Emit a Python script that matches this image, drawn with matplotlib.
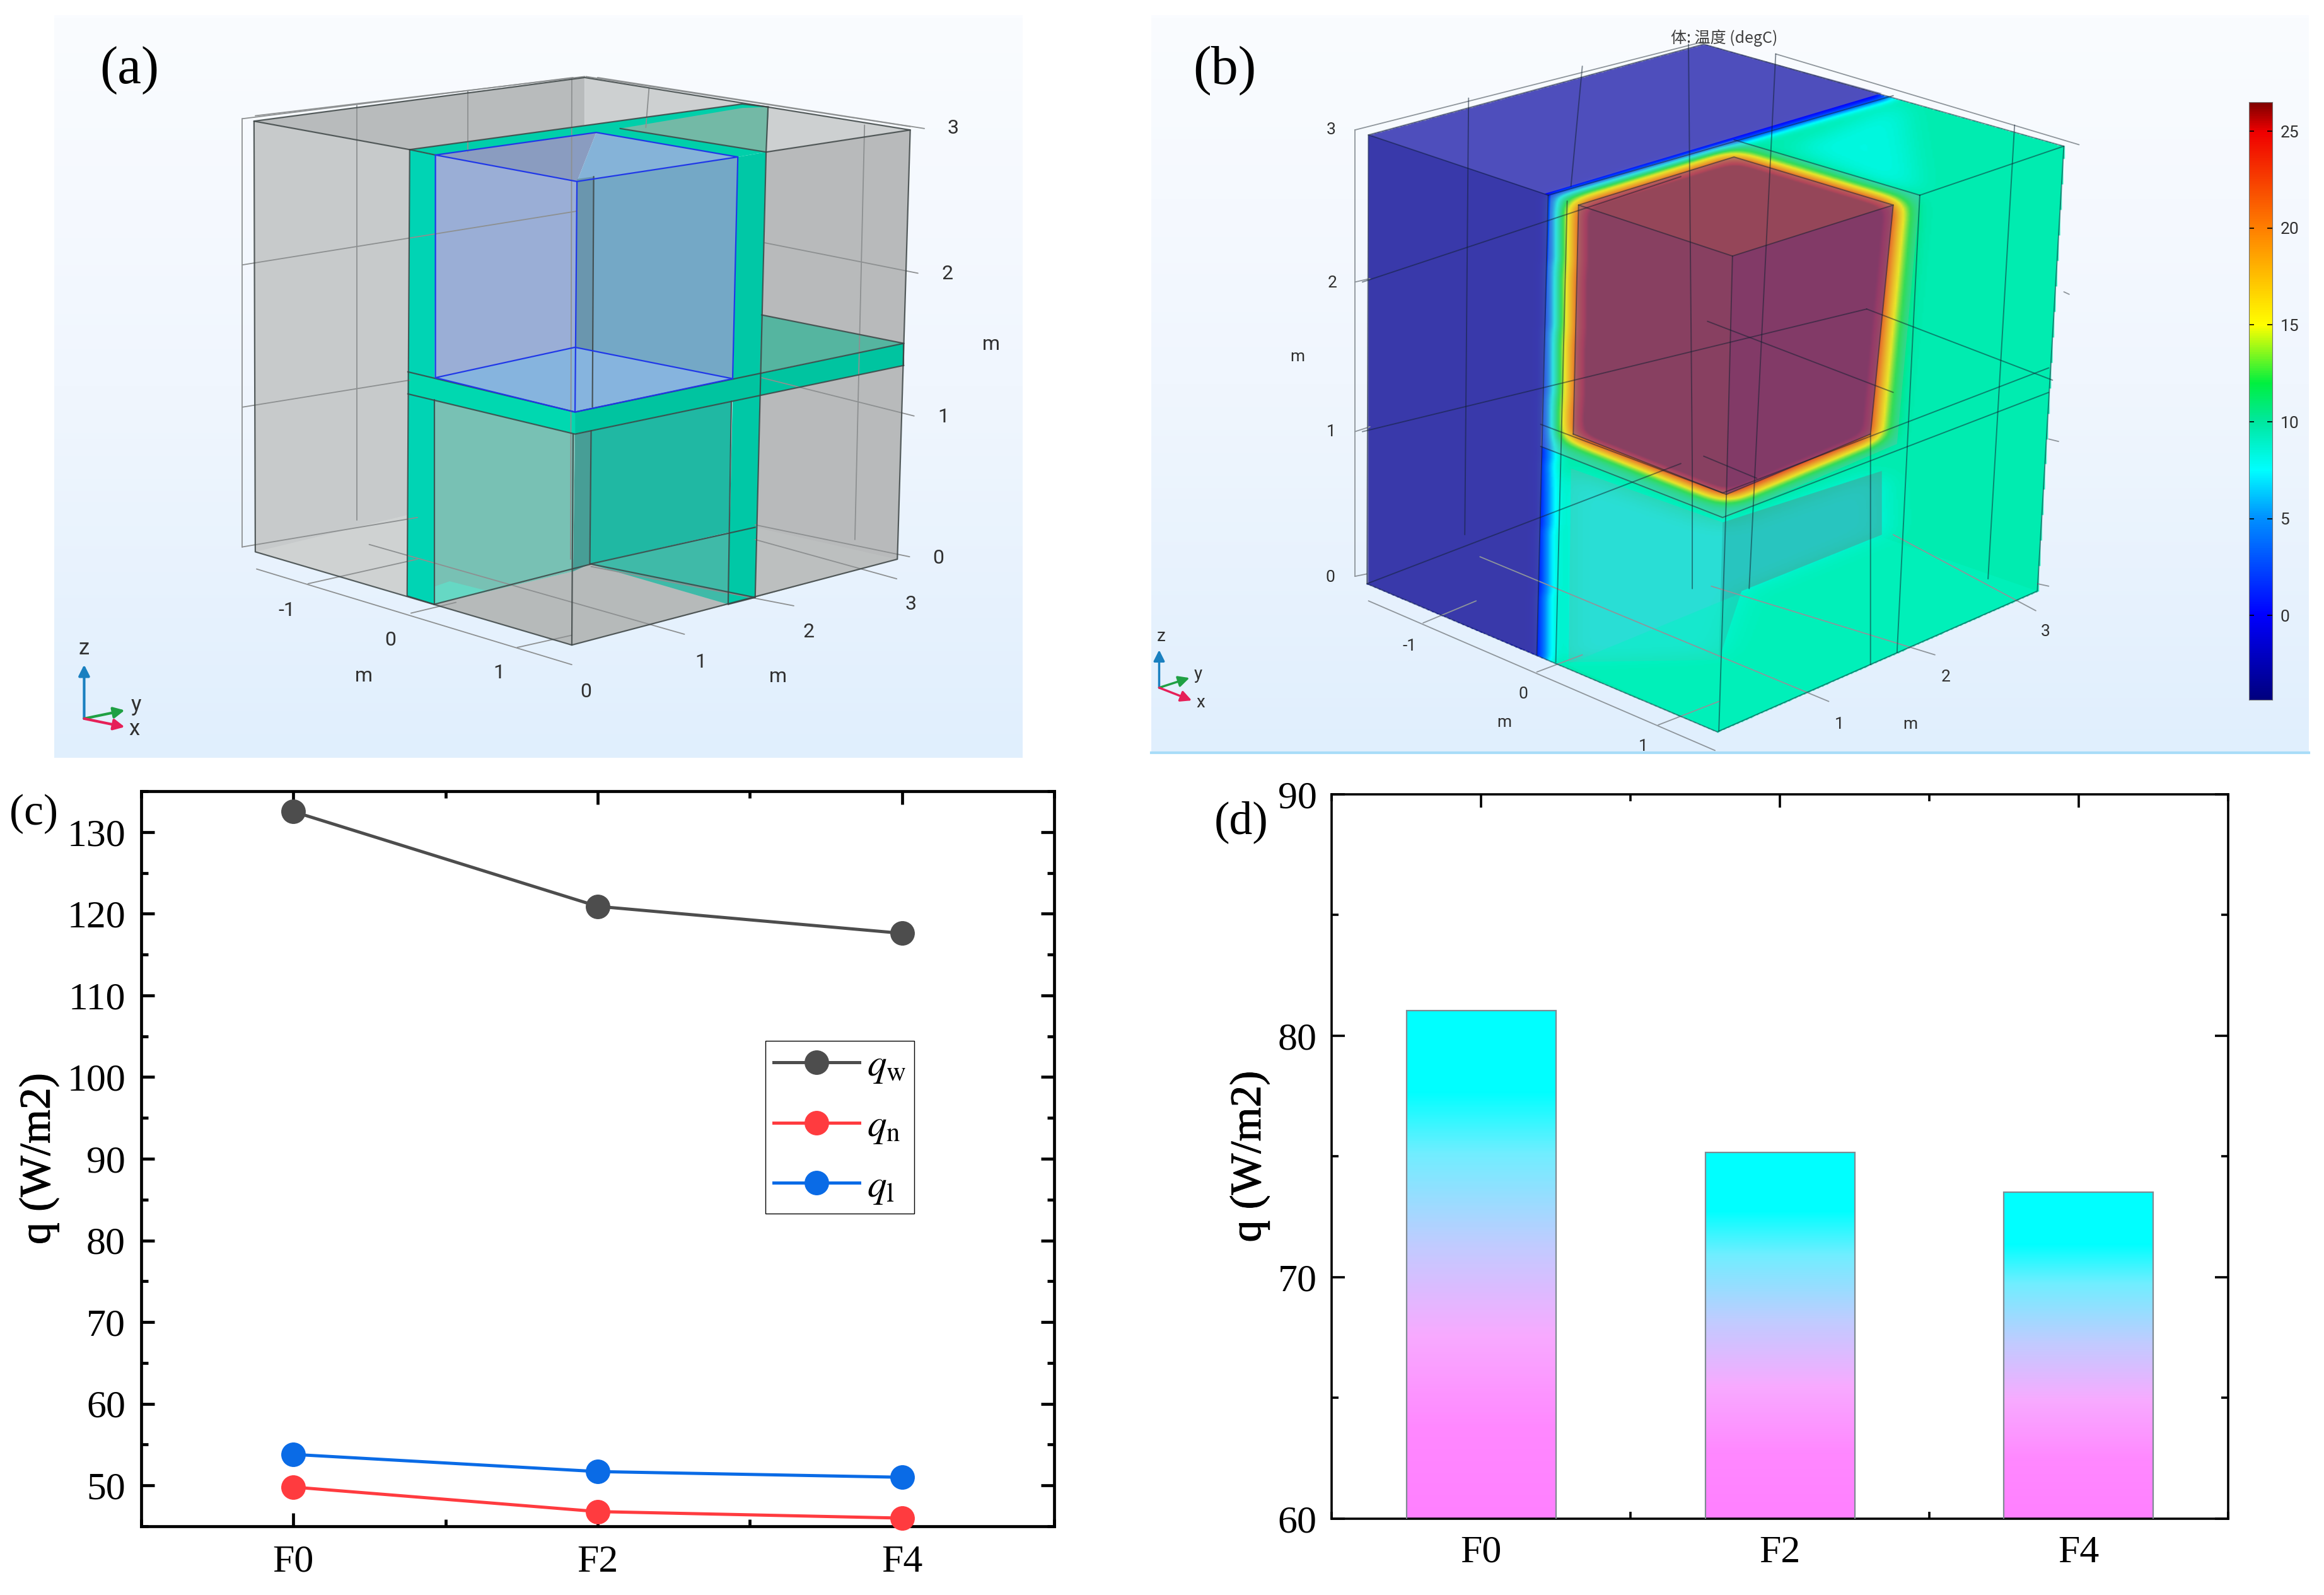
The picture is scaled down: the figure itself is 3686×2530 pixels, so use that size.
import matplotlib
matplotlib.use("Agg")
import matplotlib.pyplot as plt
import matplotlib.patheffects as pe
import numpy as np
from matplotlib.colors import LinearSegmentedColormap
from matplotlib.patches import Polygon
from matplotlib.path import Path
from matplotlib.ticker import MultipleLocator

plt.rcParams["font.family"] = ["Liberation Serif", "DejaVu Serif"]
plt.rcParams["mathtext.fontset"] = "stix"

# ── data ──────────────────────────────────────────────────────────────────────

CASES = ["F0", "F2", "F4"]
Q_W = [132.5, 120.9, 117.6]
Q_N = [49.8, 46.8, 46.0]
Q_L = [53.8, 51.7, 51.0]
Q_BAR = [81.05, 75.17, 73.53]

W, H = 3686, 2530
SANS = ["Roboto", "DejaVu Sans"]

fig = plt.figure(figsize=(W / 100, H / 100), dpi=100, facecolor="white")


def add_box(x0, y0, x1, y1):
    return fig.add_axes([x0 / W, 1 - y1 / H, (x1 - x0) / W, (y1 - y0) / H])


def sketch_axes(x0, y0, x1, y1):
    # drawing coords run 0-1568 across the box, y pointing down
    ax = add_box(x0, y0, x1, y1)
    ax.set_xlim(0, 1568)
    ax.set_ylim(1568, 0)
    ax.set_axis_off()
    return ax


def background(ax, x0, y0, x1, y1):
    cm = LinearSegmentedColormap.from_list("bg", ["#fafcff", "#f0f6fe", "#e0effd"])
    ax.imshow(np.linspace(0, 1, 256)[:, None], extent=(x0, x1, y1, y0), cmap=cm,
              aspect="auto", zorder=0)
    ax.set_xlim(0, 1568)
    ax.set_ylim(1568, 0)


def poly(ax, pts, color, alpha=1.0, z=2):
    ax.add_patch(Polygon(pts, closed=True, facecolor=color, edgecolor="none",
                         alpha=alpha, zorder=z))


def lines(ax, segs, color, lw=1.5, alpha=1.0, z=5):
    for s in segs:
        xs, ys = zip(*s)
        ax.plot(xs, ys, color=color, lw=lw, alpha=alpha, zorder=z,
                solid_capstyle="round")


def labels(ax, items, size, color="#303030"):
    for x, y, s in items:
        ax.text(x, y, s, fontsize=size, color=color, family=SANS,
                ha="center", va="center", zorder=8)


def triad(ax, o, z_end, y_end, x_end, lw=3):
    for end, c in [(z_end, "#1a80c0"), (y_end, "#1fa043"), (x_end, "#e62058")]:
        ax.annotate("", xy=end, xytext=o, zorder=7,
                    arrowprops=dict(arrowstyle="-|>", color=c, lw=lw,
                                    mutation_scale=26, shrinkA=0, shrinkB=0))


# ── (a) model geometry ────────────────────────────────────────────────────────

ax = sketch_axes(60, 0, 1660, 1220)
background(ax, 25, 32, 1530, 1545)

poly(ax, [(336, 247), (850, 158), (850, 265), (578, 305)], "#b8bbbc")
poly(ax, [(850, 158), (1356, 265), (1132, 310), (850, 265)], "#cdd0d1")
poly(ax, [(336, 247), (578, 305), (574, 1215), (338, 1125)], "#c7cacb")
poly(ax, [(1132, 310), (1356, 265), (1336, 1140), (1115, 1218)], "#b8babb")
poly(ax, [(338, 1125), (574, 1050), (860, 1150), (830, 1315), (574, 1215)], "#cfd2d2")
poly(ax, [(860, 1150), (1115, 1075), (1336, 1140), (1115, 1218), (830, 1315)], "#bcbfbf")
poly(ax, [(616, 1232), (832, 1165), (858, 1150), (1073, 1232), (830, 1315)], "#b6baba")

# lower room
poly(ax, [(616, 815), (835, 885), (832, 1165), (616, 1232)], "#78c1b4")
poly(ax, [(835, 885), (860, 878), (858, 1150), (832, 1165)], "#479e96")
poly(ax, [(860, 878), (1078, 818), (1075, 1085), (858, 1150)], "#20b8a3")
poly(ax, [(858, 1150), (1075, 1085), (1115, 1075), (1115, 1218), (1073, 1232)], "#3fbaa8")
poly(ax, [(574, 1215), (616, 1232), (700, 1205), (640, 1185)], "#66d8c4")

# teal walls
poly(ax, [(578, 305), (618, 316), (616, 1232), (574, 1215)], "#00d4b4", z=3)
poly(ax, [(1088, 320), (1132, 310), (1115, 1218), (1073, 1232)], "#00c8a6", z=3)
poly(ax, [(578, 305), (1095, 212), (1136, 218), (1132, 310), (1088, 320),
          (868, 270), (618, 316)], "#00cfaa", z=3)
poly(ax, [(905, 262), (1095, 220), (1136, 218), (1132, 310)], "#73b9a6", z=3)

# slab
poly(ax, [(1125, 642), (1346, 700), (1122, 760)], "#55b5a0", z=3)
poly(ax, [(575, 758), (618, 770), (835, 840), (835, 885), (575, 803)], "#00d8b0", z=3)
poly(ax, [(835, 840), (1346, 700), (1346, 745), (835, 885)], "#00c4a0", z=3)

# heated room
poly(ax, [(618, 316), (868, 270), (838, 370)], "#8a9cc0", z=4)
poly(ax, [(868, 270), (1088, 320), (838, 370)], "#85b3d8", z=4)
poly(ax, [(618, 316), (838, 370), (835, 840), (618, 770)], "#9aaed6", z=4)
poly(ax, [(838, 370), (1088, 320), (1080, 772), (835, 840)], "#74a8c6", z=4)
poly(ax, [(838, 365), (864, 360), (862, 830), (835, 840)], "#6a96ae", z=4)
poly(ax, [(618, 770), (835, 708), (1080, 772), (835, 840)], "#86b4de", z=4)

lines(ax, [[(318, 242), (832, 158)], [(870, 158), (1378, 262)], [(338, 236), (850, 156)],
           [(852, 156), (1356, 258)], [(318, 242), (318, 1115)], [(318, 540), (840, 430)],
           [(318, 830), (578, 775)], [(318, 1115), (590, 1055)], [(1130, 495), (1368, 557)],
           [(1125, 770), (1362, 848)], [(1115, 1070), (1355, 1135)],
           [(340, 1160), (830, 1355)], [(420, 1190), (590, 1140)], [(580, 1250), (650, 1228)],
           [(745, 1320), (830, 1295)], [(515, 1110), (1005, 1293)], [(860, 1155), (1175, 1235)],
           [(1115, 1100), (1335, 1180)], [(496, 215), (496, 1060)], [(668, 185), (668, 310)],
           [(830, 160), (828, 1140)], [(950, 180), (945, 260)], [(1285, 255), (1270, 1100)]],
      "#8d9091", lw=1.3, z=4.5)
lines(ax, [[(336, 247), (850, 158), (1356, 265), (1336, 1140), (830, 1315), (338, 1125), (336, 247)],
           [(336, 247), (578, 305)], [(1132, 310), (1356, 265)], [(578, 305), (1095, 212), (1136, 218)],
           [(578, 305), (574, 1215), (616, 1232)], [(1132, 310), (1115, 1218), (1073, 1232)],
           [(616, 815), (616, 1232)], [(1078, 818), (1073, 1232)], [(832, 885), (830, 1315)],
           [(575, 758), (835, 840), (1346, 700)], [(575, 803), (835, 885), (1346, 745)],
           [(1346, 700), (1346, 745)], [(1125, 642), (1346, 700)], [(616, 1232), (860, 1150), (1115, 1218)],
           [(858, 1150), (1115, 1075)], [(860, 878), (858, 1150)], [(1135, 218), (1132, 310)],
           [(578, 305), (618, 316)], [(905, 262), (1132, 310)], [(864, 360), (862, 830)]],
      "#3d4545", lw=1.6, alpha=0.85)
lines(ax, [[(618, 316), (868, 270), (1088, 320), (838, 370), (618, 316)],
           [(618, 316), (618, 770), (835, 840), (1080, 772), (1088, 320)], [(838, 370), (835, 840)],
           [(618, 770), (835, 708), (1080, 772)]], "#2038e8", lw=1.6, z=6)

labels(ax, [(1422, 262, "3"), (1414, 558, "2"), (1482, 703, "m"), (1408, 850, "1"),
            (1400, 1138, "0"), (1357, 1232, "3"), (1198, 1288, "2"), (1030, 1350, "1"),
            (1150, 1380, "m"), (852, 1410, "0"), (717, 1372, "1"), (507, 1378, "m"),
            (548, 1305, "0"), (387, 1245, "-1")], 23)
triad(ax, (72, 1465), (72, 1355), (135, 1448), (135, 1482))
labels(ax, [(72, 1322, "z"), (153, 1438, "y"), (150, 1487, "x")], 25)
ax.text(142, 143, "(a)", fontsize=61, ha="center", va="center", zorder=9)

# ── (b) temperature field ─────────────────────────────────────────────────────

ax = sketch_axes(1800, 0, 3686, 1220)
background(ax, 22, 32, 1548, 1535)
ax.plot([22, 1548], [1535, 1535], color="#a8dcf8", lw=3, zorder=1)

TICKS_B = [0, 5, 10, 15, 20, 25]
T_STOPS = [-4.35, 0, 5, 7.5, 10, 12, 15, 20, 25, 26.5]
T_COLORS = ["#00007f", "#0000ff", "#0090ff", "#00ffff", "#00e8a0", "#00f040",
            "#ffff00", "#ff8000", "#f00000", "#800000"]
t_norm = [(t - T_STOPS[0]) / (T_STOPS[-1] - T_STOPS[0]) for t in T_STOPS]
temp_cmap = LinearSegmentedColormap.from_list("temp", list(zip(t_norm, T_COLORS)))

gx, gy = np.meshgrid(np.arange(0, 1568, 2.0), np.arange(0, 1568, 2.0))
grid_pts = np.column_stack([gx.ravel(), gy.ravel()])


def mask(pts):
    return Path(pts).contains_points(grid_pts).reshape(gx.shape).astype(float)


def blur(a, sx, sy):
    # gaussian blur, sigmas given in drawing units
    for axis, s in [(1, sx / 2), (0, sy / 2)]:
        r = int(3 * s)
        k = np.exp(-0.5 * (np.arange(-r, r + 1) / s) ** 2)
        k /= k.sum()
        a = np.apply_along_axis(lambda v: np.convolve(np.pad(v, r, mode="edge"), k, mode="valid"), axis, a)
    return a


OUTLINE_B = [(308, 275), (750, 90), (1225, 298), (1190, 1205), (768, 1492), (306, 1190)]
COLD_B = [(0, 0), (745, 0), (1000, 195), (552, 398), (538, 1345), (400, 1568), (0, 1568)]
HOT_B = [(580, 414), (790, 315), (1005, 414), (975, 890), (780, 1016), (573, 890)]
LOWER_B = [(565, 960), (775, 1075), (985, 960), (990, 1085), (800, 1205), (770, 1330), (565, 1345)]
CORNER_B = [(870, 300), (1010, 205), (1030, 390), (960, 360)]

field = 9.6 - 10.1 * blur(mask(COLD_B), 11, 7)
field = field - 1.5 * blur(mask(LOWER_B), 22, 15)
field = field - 1.3 * blur(mask(CORNER_B), 20, 14)
hot = np.clip(1.15 * blur(mask(HOT_B), 17, 14), 0, 1)
field = field + (26.2 - field) * hot
rgba = temp_cmap((field - T_STOPS[0]) / (T_STOPS[-1] - T_STOPS[0]))
rgba[..., 3] = mask(OUTLINE_B)
ax.imshow(rgba, extent=(0, 1568, 1568, 0), aspect="auto", zorder=2, interpolation="bilinear")
ax.set_xlim(0, 1568)
ax.set_ylim(1568, 0)

poly(ax, [(308, 275), (545, 398), (530, 1335), (306, 1190)], "#505090", 0.72, z=3)
poly(ax, [(308, 275), (750, 90), (985, 190), (540, 395)], "#7070a8", 0.7, z=3)
poly(ax, [(548, 398), (790, 285), (1035, 398), (1005, 905), (775, 1058), (535, 910)], "#b0a898", 0.28, z=3)
poly(ax, [(585, 418), (790, 320), (1000, 418), (788, 522)], "#925a80", 0.55, z=3)
poly(ax, [(585, 418), (788, 522), (780, 1008), (578, 885)], "#7a5090", 0.55, z=3)
poly(ax, [(788, 522), (1000, 418), (970, 885), (780, 1008)], "#7a4080", 0.72, z=3)
poly(ax, [(575, 955), (775, 1065), (770, 1345), (572, 1350)], "#80a8b0", 0.32, z=3)
poly(ax, [(775, 1065), (985, 960), (985, 1090), (800, 1205), (770, 1345)], "#607f88", 0.42, z=3)
poly(ax, [(570, 1355), (768, 1492), (1190, 1205), (985, 1095), (790, 1215)], "#00f5c5", 0.45, z=3)

lines(ax, [[(290, 265), (750, 85)], [(845, 110), (1245, 295)], [(290, 265), (290, 1175)],
           [(290, 1175), (306, 1170)], [(290, 575), (310, 568)], [(290, 880), (310, 870)],
           [(308, 1225), (765, 1530)], [(380, 1270), (450, 1225)], [(530, 1370), (590, 1335)],
           [(690, 1478), (770, 1430)], [(455, 1135), (915, 1430)], [(760, 1195), (1055, 1335)],
           [(1000, 1090), (1188, 1245)], [(1190, 1190), (1205, 1195)], [(1225, 595), (1232, 600)],
           [(1205, 895), (1218, 900)]], "#8e959b", lw=1.3, z=4)
lines(ax, [OUTLINE_B + [OUTLINE_B[0]], [(308, 275), (545, 398)], [(545, 398), (1000, 195)],
           [(545, 398), (530, 1335)], [(1035, 398), (1225, 298)], [(1035, 398), (1005, 1330)],
           [(790, 285), (1035, 398)], [(585, 418), (790, 320), (1000, 418), (788, 522), (585, 418)],
           [(788, 522), (780, 1008), (770, 1490)], [(578, 885), (780, 1008), (970, 885)],
           [(1000, 418), (970, 885), (970, 1355)], [(585, 418), (578, 885)],
           [(535, 865), (775, 1005), (1205, 750)], [(535, 910), (775, 1055), (1205, 800)],
           [(306, 1190), (720, 945)], [(300, 880), (965, 630)], [(300, 575), (720, 360)],
           [(570, 410), (555, 1350)], [(440, 200), (435, 1090)], [(590, 135), (575, 380)],
           [(1160, 255), (1125, 1180)], [(730, 90), (735, 950), (735, 1200)], [(845, 110), (810, 1200)],
           [(965, 630), (1210, 775)], [(755, 655), (1000, 800)], [(750, 930), (820, 975)]],
      "#102030", lw=1.4, alpha=0.5)

labels(ax, [(259, 265, "3"), (260, 577, "2"), (214, 728, "m"), (259, 880, "1"), (258, 1177, "0"),
            (362, 1318, "-1"), (512, 1415, "0"), (487, 1473, "m"), (670, 1522, "1"),
            (929, 1477, "1"), (1022, 1477, "m"), (1069, 1380, "2"), (1201, 1288, "3")], 19)
ax.text(777, 78, "体: 温度 (degC)", fontsize=18, color="#404040", ha="center", va="center",
        family=["Noto Sans CJK SC", "DejaVu Sans"], zorder=8)
triad(ax, (32, 1402), (32, 1325), (72, 1382), (75, 1428), lw=2.5)
labels(ax, [(35, 1297, "z"), (83, 1374, "y"), (87, 1432, "x")], 20)
ax.text(118, 143, "(b)", fontsize=62, ha="center", va="center", zorder=9)

# colour bar
cax = add_box(3567, 162, 3604, 1110)
cax.imshow(np.linspace(1, 0, 512)[:, None], extent=(0, 1, T_STOPS[0], T_STOPS[-1]),
           cmap=temp_cmap, aspect="auto")
cax.set_xticks([])
cax.set_ylim(T_STOPS[0], T_STOPS[-1])
cax.set_yticks(TICKS_B)
cax.yaxis.tick_right()
cax.tick_params(axis="y", direction="in", length=6, width=1.2, left=True, right=True, pad=9,
                labelsize=19, labelcolor="#303030")
for lab in cax.get_yticklabels():
    lab.set_family(SANS)
for s in cax.spines.values():
    s.set_linewidth(0.8)
    s.set_color("#707070")

# ── (c) heat flux lines ───────────────────────────────────────────────────────

x_pos = np.arange(len(CASES))
heavy = [pe.withStroke(linewidth=0.7, foreground="black")]


def frame(ax, major, minor, lw, size=44.6, xpad=21, ypad=18):
    ax.set_xticks(x_pos)
    ax.set_xticklabels(CASES)
    ax.xaxis.set_minor_locator(MultipleLocator(0.5))
    ax.yaxis.set_major_locator(MultipleLocator(major))
    ax.yaxis.set_minor_locator(MultipleLocator(minor))
    ax.tick_params(which="major", direction="in", length=15, width=lw, top=True, right=True,
                   labelsize=size)
    ax.tick_params(which="minor", direction="in", length=8, width=lw, top=True, right=True)
    ax.tick_params(axis="x", which="major", pad=xpad)
    ax.tick_params(axis="y", which="major", pad=ypad)
    for s in ax.spines.values():
        s.set_linewidth(lw)
    ax.set_xlim(-0.5, 2.5)


ax = add_box(224, 1255, 1672, 2421)
line_style = dict(marker="o", ms=27, lw=3.6, clip_on=False, zorder=4)
ax.plot(x_pos, Q_W, color="#4d4d4d", label=r"$q_{\mathrm{w}}$", **line_style)
ax.plot(x_pos, Q_N, color="#ff3b3f", label=r"$q_{\mathrm{n}}$", **line_style)
ax.plot(x_pos, Q_L, color="#0a6be6", label=r"$q_{\mathrm{l}}$", **line_style)
ax.set_ylim(45, 135)
frame(ax, 10, 5, 3.4)
ax.set_ylabel("q (W/m2)", fontsize=50, path_effects=heavy)
ax.yaxis.set_label_coords(-0.09, 0.5)
ax.legend(loc="upper left", bbox_to_anchor=(0.684, 0.66), borderaxespad=0, fontsize=44,
          fancybox=False, edgecolor="black", framealpha=1, handlelength=2.23,
          handletextpad=0.2, borderpad=0.2, labelspacing=0.62).get_frame().set_linewidth(1)

# ── (d) mean flux bars ────────────────────────────────────────────────────────

BAR_STOPS = [0.0, 0.18, 0.36, 0.54, 0.72, 0.84, 1.0]
BAR_COLORS = ["#ff80ff", "#ff88ff", "#f8aaff", "#c0ccff", "#70eeff", "#00ffff", "#00ffff"]
bar_cmap = LinearSegmentedColormap.from_list("bar", list(zip(BAR_STOPS, BAR_COLORS)))

ax = add_box(2112, 1260, 3534, 2409)
bars = ax.bar(x_pos, Q_BAR, width=0.5, facecolor="none", edgecolor="#7f8a92", linewidth=1.6, zorder=3)
for b in bars:
    l, r = b.get_x(), b.get_x() + b.get_width()
    ax.imshow(np.linspace(1, 0, 256)[:, None], extent=(l, r, 60, b.get_height()), cmap=bar_cmap,
              aspect="auto", zorder=2)
ax.set_ylim(60, 90)
frame(ax, 10, 5, 2.6, xpad=19, ypad=17)
ax.set_aspect("auto")
ax.set_ylabel("q (W/m2)", fontsize=50, path_effects=heavy)
ax.yaxis.set_label_coords(-0.069, 0.5)

fig.text(54 / W, 1 - 1291 / H, "(c)", fontsize=50, ha="center", va="center")
fig.text((1900 + 60 * 1.139) / W, 1 - 1304 / H, "(d)", fontsize=53, ha="center", va="center")

fig.savefig("out.png", dpi=100, facecolor="white")
